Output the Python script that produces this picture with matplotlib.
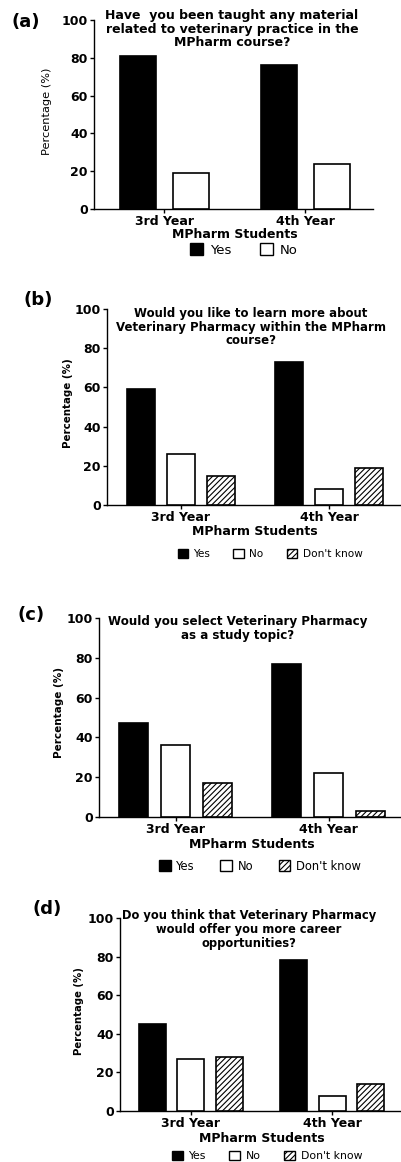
import matplotlib.pyplot as plt
from matplotlib.patches import Patch

plt.rcParams['font.family'] = ['DejaVu Sans']
plt.rcParams['hatch.linewidth'] = 0.8

W, H = 402, 1162

groups = ['3rd Year', '4th Year']
yticks = [0, 20, 40, 60, 80, 100]
legend_names = ['Yes', 'No', "Don't know"]

# (a) taught material
a_yes = [81, 76]
a_no = [19, 24]
# (b) learn more
b_yes = [59, 73]
b_no = [26, 8]
b_dk = [15, 19]
# (c) select as study topic
c_yes = [47, 77]
c_no = [36, 22]
c_dk = [17, 3]
# (d) career opportunities
d_yes = [45, 78]
d_no = [27, 8]
d_dk = [28, 14]

titles = [
    'Have  you been taught any material\nrelated to veterinary practice in the\nMPharm course?',
    'Would you like to learn more about\nVeterinary Pharmacy within the MPharm\ncourse?',
    'Would you select Veterinary Pharmacy\nas a study topic?',
    'Do you think that Veterinary Pharmacy\nwould offer you more career\nopportunities?',
]
panel_labels = ['(a)', '(b)', '(c)', '(d)']


def fx(x):
    return x / W


def fy(y):
    return 1 - y / H


# layout in pixels: axes box (left, right, top, bottom), text anchors
panels = [
    dict(series=[a_yes, a_no], box=(94, 373, 20, 209), title_xy=(232, 29), title_fs=9.0,
         lab_xy=(26, 22), ylab_xy=(47, 111), ylab_w='normal', ylab_fs=8.2, xlab_y=235,
         leg_xy=(244, 250), leg_fs=9.5),
    dict(series=[b_yes, b_no, b_dk], box=(107, 400, 309, 505), title_xy=(251, 327), title_fs=8.5,
         lab_xy=(38, 300), ylab_xy=(68, 403), ylab_w='bold', ylab_fs=7.4, xlab_y=532,
         leg_xy=(270, 554), leg_fs=7.6),
    dict(series=[c_yes, c_no, c_dk], box=(99, 402, 618, 817), title_xy=(238, 628), title_fs=8.6,
         lab_xy=(31, 615), ylab_xy=(59, 713), ylab_w='bold', ylab_fs=7.5, xlab_y=845,
         leg_xy=(260, 866), leg_fs=8.3),
    dict(series=[d_yes, d_no, d_dk], box=(120, 400, 918, 1111), title_xy=(249, 929), title_fs=8.3,
         lab_xy=(47, 909), ylab_xy=(79, 1011), ylab_w='bold', ylab_fs=7.3, xlab_y=1138,
         leg_xy=(267, 1156), leg_fs=7.8),
]

styles = [
    dict(facecolor='black', hatch=None),
    dict(facecolor='white', hatch=None),
    dict(facecolor='white', hatch='//////'),
]

fig = plt.figure(figsize=(W / 100, H / 100), dpi=100)

for p, title, plabel in zip(panels, titles, panel_labels):
    left, right, top, bottom = p['box']
    ax = fig.add_axes([fx(left), fy(bottom), (right - left) / W, (bottom - top) / H])

    n = len(p['series'])
    width = 0.254 if n == 2 else 0.19
    step = 0.375 if n == 2 else 0.273
    for i, vals in enumerate(p['series']):
        xs = [g + (i - (n - 1) / 2) * step for g in range(len(groups))]
        ax.bar(xs, vals, width, edgecolor='black', linewidth=1.2, zorder=3, **styles[i])

    ax.set_xlim(-0.5, 1.48)
    ax.set_ylim(0, 100)
    ax.set_xticks(range(len(groups)))
    ax.set_xticklabels(groups, fontsize=9, fontweight='bold')
    ax.set_yticks(yticks)
    ax.set_yticklabels([str(t) for t in yticks], fontsize=9, fontweight='bold')
    ax.tick_params(axis='both', direction='out', length=3, width=1, pad=1.5)
    for side in ['top', 'right']:
        ax.spines[side].set_visible(False)
    for side in ['left', 'bottom']:
        ax.spines[side].set_linewidth(1)

    fig.text(fx(p['title_xy'][0]), fy(p['title_xy'][1]), title, ha='center', va='center',
             fontsize=p['title_fs'], fontweight='bold', linespacing=1.1)
    fig.text(fx(p['lab_xy'][0]), fy(p['lab_xy'][1]), plabel, ha='center', va='center',
             fontsize=13, fontweight='bold')
    fig.text(fx(p['ylab_xy'][0]), fy(p['ylab_xy'][1]), 'Percentage (%)', rotation=90,
             ha='center', va='center', fontsize=p['ylab_fs'], fontweight=p['ylab_w'])
    ax.annotate('MPharm Students', xy=(0.5, fy(p['xlab_y'])),
                xycoords=('data', 'figure fraction'), ha='center', va='center',
                fontsize=9, fontweight='bold', annotation_clip=False)

    handles = [Patch(edgecolor='black', linewidth=1.0, **styles[i]) for i in range(n)]
    fig.legend(handles, legend_names[:n], loc='center', ncol=n, frameon=False,
               bbox_to_anchor=(fx(p['leg_xy'][0]), fy(p['leg_xy'][1])),
               bbox_transform=fig.transFigure, fontsize=p['leg_fs'],
               handlelength=1.0, handleheight=1.0, handletextpad=0.5,
               columnspacing=2.2, borderpad=0, borderaxespad=0)

fig.savefig('out.png', dpi=100)
